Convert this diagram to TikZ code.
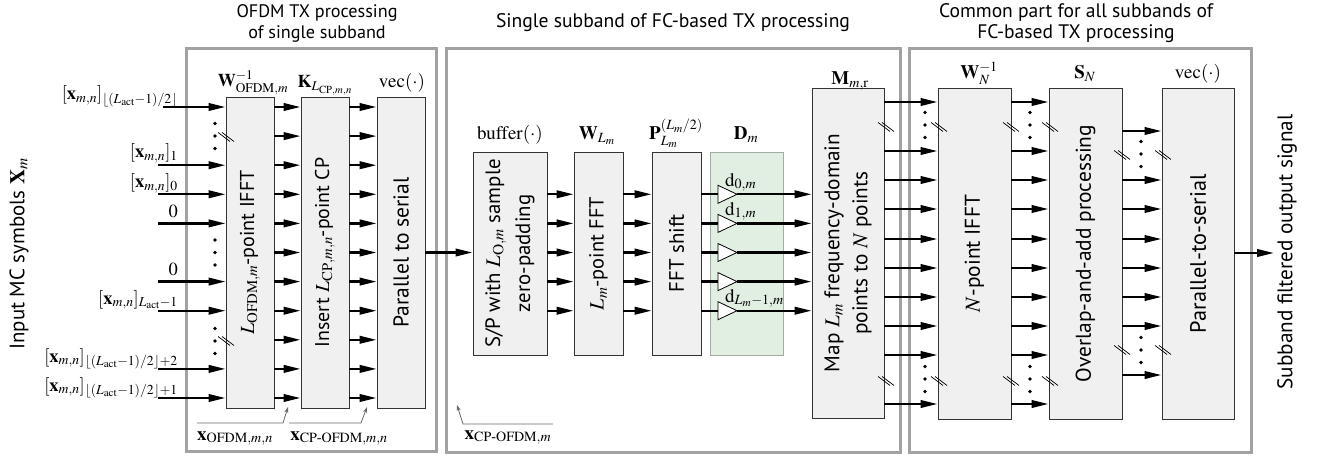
\documentclass[tikz,border=0pt]{standalone}
\usepackage{amsmath}
\usepackage{mathptmx}
\usepackage[no-math]{fontspec}
\setmainfont{Liberation Serif}
\newfontfamily\dinfont{PT Sans}
\usetikzlibrary{arrows.meta}

\definecolor{blockfill}{HTML}{F0F0F0}
\definecolor{secframe}{HTML}{A2A2A2}
\definecolor{dfill}{HTML}{E1EFE3}
\definecolor{dframe}{HTML}{A3ABA4}
\definecolor{notegray}{HTML}{6A6A6A}

% three stacked dots
\tikzset{vdotsthree/.pic={\foreach \dd in {-12.5,0,12.5} \fill (0,\dd) circle[radius=1.8pt];}}
% double slash marking a bundle of lines
\tikzset{dslash/.pic={\draw[line width=0.7pt] (-8,-4.5)--(4,4.5) (-4,-4.5)--(8,4.5);}}

% block given by its corners: name, x0, y0, x1, y1
\newcommand\blockat[6][blk]{%
  \node[#1, minimum width={#5-#3}, minimum height={#6-#4}] (#2) at ({(#3+#5)/2},{(#4+#6)/2}) {};}

% sans font at the size that gives the sample text #3 the length #1 (pt),
% with baselines #2 apart
\newlength\fitwd
\newcommand\fitfont[3]{%
  \settowidth\fitwd{\dinfont\fontsize{10}{12}\selectfont #3}%
  \pgfmathsetmacro\fitpt{10*#1/\fitwd}%
  \dinfont\fontsize{\fitpt}{#2}\selectfont}

\begin{document}
\begin{tikzpicture}[x=1pt,y=-1pt, font=\fontsize{19}{22}\selectfont,
  sect/.style={draw=secframe, line width=3pt, inner sep=0pt},
  blk/.style={draw=black!80, fill=blockfill, line width=0.9pt, inner sep=0pt},
  dblk/.style={draw=dframe, fill=dfill, line width=0.9pt, inner sep=0pt},
  arr/.style={line width=2.3pt, -{Triangle[length=17pt,width=7.5pt]}},
  wire/.style={line width=2.3pt},
  btext/.style={rotate=90, align=center, inner sep=0pt},
  title/.style={align=center, inner sep=0pt},
  fit len/.style n args={3}{font={\fitfont{#1}{#2}{#3}}},
  lab/.style={inner sep=0pt, anchor=base},
  inlab/.style={inner sep=0pt, anchor=base east, font=\fontsize{18.5}{22}\selectfont},
  note/.style={draw=notegray, line width=0.8pt, -{Stealth[length=6pt,width=4pt]}},
]
\fill[white] (0,0) rectangle (1319,457);
\useasboundingbox (0,0) rectangle (1319,457);

% ---------- processing sections ----------
\node[sect, minimum width=250, minimum height=402] (sec1) at (311,250) {};
\node[sect, minimum width=454, minimum height=403] (sec2) at (673,250.5) {};
\node[sect, minimum width=342, minimum height=403] (sec3) at (1080,250.5) {};

\node[title, fit len={161}{21}{OFDM TX processing}] (tit1) at (317,23)
  {OFDM TX processing\\of single subband};
\node[title, fit len={354}{21}{Single subband of FC-based TX processing}] (tit2) at (673,23)
  {Single subband of FC-based TX processing};
\node[title, fit len={274}{21}{Common part for all subbands of}] (tit3) at (1076,23)
  {Common part for all subbands of\\FC-based TX processing};

% ---------- blocks ----------
\blockat{ifft}{226}{97}{274}{408}
\blockat{cp}{301}{97}{349}{408}
\blockat{ps}{377}{97}{425}{408}
\blockat{sp}{473}{152}{547}{355}
\blockat{fft}{574}{152}{623}{355}
\blockat{shift}{652}{152}{701}{355}
\blockat[dblk]{dm}{710}{152}{783}{355}
\blockat{map}{812}{88}{884}{418}
\blockat{ifftN}{938}{88}{1011}{419}
\blockat{ola}{1049}{88}{1122}{419}
\blockat{p2s}{1162}{88}{1234}{419}

\node[btext, fit len={165}{24}{$L_{\mathrm{OFDM},m}$-point IFFT}] (t-ifft) at (ifft)
  {$L_{\mathrm{OFDM},m}$-point IFFT};
\node[btext, fit len={190}{24}{Insert $L_{\mathrm{CP},m,n}$-point CP}] (t-cp) at (cp)
  {Insert $L_{\mathrm{CP},m,n}$-point CP};
\node[btext, fit len={150}{24}{Parallel to serial}] (t-ps) at (ps) {Parallel to serial};
\node[btext, fit len={189}{30}{S/P with $L_{\mathrm{O},m}$ sample}] (t-sp) at (sp)
  {S/P with $L_{\mathrm{O},m}$ sample\\zero-padding};
\node[btext, fit len={114}{24}{$L_m$-point FFT}] (t-fft) at (fft) {$L_m$-point FFT};
\node[btext, fit len={78}{24}{FFT shift}] (t-shift) at (shift) {FFT shift};
\node[btext, fit len={239}{28}{Map $L_m$ frequency-domain}] (t-map) at (map)
  {Map $L_m$ frequency-domain\\points to $N$ points};
\node[btext, fit len={117}{24}{$N$-point IFFT}] (t-ifftN) at (ifftN) {$N$-point IFFT};
\node[btext, fit len={257}{24}{Overlap-and-add processing}] (t-ola) at (ola)
  {Overlap-and-add processing};
\node[btext, fit len={159}{24}{Parallel-to-serial}] (t-p2s) at (p2s) {Parallel-to-serial};

% ---------- operator labels ----------
\node[lab, font=\fontsize{18}{22}\selectfont] (l-ifft) at (253,87) {$\mathbf{W}^{-1}_{\mathrm{OFDM},m}$};
\node[lab, font=\fontsize{18}{22}\selectfont] (l-cp) at (325,88) {$\mathbf{K}_{L_{\mathrm{CP},m,n}}$};
\node[lab] (l-ps) at (402,88) {$\mathrm{vec}(\cdot)$};
\node[lab] (l-sp) at (510,140) {$\mathrm{buffer}(\cdot)$};
\node[lab] (l-fft) at (597,140) {$\mathbf{W}_{L_m}$};
\node[lab] (l-shift) at (676,140) {$\mathbf{P}^{(L_m/2)}_{L_m}$};
\node[lab] (l-dm) at (746,140) {$\mathbf{D}_m$};
\node[lab] (l-map) at (850,85) {$\mathbf{M}_{m,\mathrm{r}}$};
\node[lab] (l-ifftN) at (979,79) {$\mathbf{W}_N^{-1}$};
\node[lab] (l-ola) at (1085,79) {$\mathbf{S}_N$};
\node[lab] (l-p2s) at (1198,79) {$\mathrm{vec}(\cdot)$};

% ---------- rows of the OFDM part ----------
\foreach \i in {1,...,11} \coordinate (r\i) at (0,{107+29.1*(\i-1)});

% inputs
\coordinate (in1) at (163,107);
\foreach \i in {3,4,5,7,8,10,11} \coordinate (in\i) at ([xshift=158pt]r\i);
\foreach \i in {1,3,4,5,7,8,10,11} \draw[arr] (in\i) -- (ifft.west |- in\i);

\node[inlab] (x1) at (178,100) {$[\mathbf{x}_{m,n}]_{\lfloor(L_{\mathrm{act}}-1)/2\rfloor}$};
\node[inlab] (x3) at (178,158) {$[\mathbf{x}_{m,n}]_1$};
\node[inlab] (x4) at (178,187.5) {$[\mathbf{x}_{m,n}]_0$};
\node[inlab] (x5) at (178,217) {$0$};
\node[inlab] (x7) at (178,275) {$0$};
\node[inlab] (x8) at (178,304) {$[\mathbf{x}_{m,n}]_{L_{\mathrm{act}}-1}$};
\node[inlab] (x10) at (178,362) {$[\mathbf{x}_{m,n}]_{\lfloor(L_{\mathrm{act}}-1)/2\rfloor+2}$};
\node[inlab] (x11) at (178,391) {$[\mathbf{x}_{m,n}]_{\lfloor(L_{\mathrm{act}}-1)/2\rfloor+1}$};

\pic at (215,136) {vdotsthree};
\pic at (215,252.5) {vdotsthree};
\pic at (215,341) {vdotsthree};
\pic at (226,137) {dslash};
\pic at (226,341) {dslash};

\foreach \i in {1,...,11} {
  \draw[arr] (ifft.east |- r\i) -- (cp.west |- r\i);
  \draw[arr] (cp.east |- r\i) -- (ps.west |- r\i);
}

% ---------- single subband FC part ----------
\draw[arr] (ps.east |- r6) -- (sp.west |- r6);
\coordinate (ampbx) at (718,0);
\coordinate (amptx) at (737,0);
\foreach \i in {4,...,8} {
  \draw[arr] (sp.east |- r\i) -- (fft.west |- r\i);
  \draw[arr] (fft.east |- r\i) -- (shift.west |- r\i);
  \coordinate (ampb\i) at (ampbx |- r\i);
  \coordinate (ampt\i) at (amptx |- r\i);
  \draw[wire] (shift.east |- r\i) -- (ampb\i);
  \draw[arr] (ampt\i) -- (map.west |- ampt\i);
  \draw[fill=white, line width=0.8pt, line join=miter]
    ([yshift=9pt]ampb\i) -- (ampt\i) -- ([yshift=-9pt]ampb\i) -- cycle;
}
\node[inner sep=0pt, anchor=base west] (d0) at (725,186) {$\mathrm{d}_{0,m}$};
\node[inner sep=0pt, anchor=base west] (d1) at (725,215) {$\mathrm{d}_{1,m}$};
\node[inner sep=0pt, anchor=base west] (dL) at (725,302) {$\mathrm{d}_{L_m-1,m}$};

% ---------- common part ----------
\foreach \y [count=\i] in {102,151,180,209,239,268,297,326,355,404}
  \coordinate (q\i) at (0,\y);
\foreach \i in {1,...,10} {
  \draw[arr] (map.east |- q\i) -- (ifftN.west |- q\i);
  \draw[arr] (ifftN.east |- q\i) -- (ola.west |- q\i);
}
\foreach \y [count=\i] in {131,180,209,239,268,297,326,375}
  \coordinate (s\i) at (0,\y);
\foreach \i in {1,...,8} \draw[arr] (ola.east |- s\i) -- (p2s.west |- s\i);
\coordinate (outend) at (1274,253);
\draw[arr] (p2s.east |- outend) -- (outend);

\foreach \x in {925,1030} {\pic at (\x,125) {vdotsthree}; \pic at (\x,379) {vdotsthree};}
\pic at (1141,154) {vdotsthree};
\pic at (1141,350) {vdotsthree};
\foreach \x in {886,939,1011,1050} {\pic at (\x,127) {dslash}; \pic at (\x,381) {dslash};}
\foreach \x in {1122,1163} {\pic at (\x,155) {dslash}; \pic at (\x,350) {dslash};}

% ---------- side labels ----------
\node[btext, fit len={192}{24}{Input MC symbols $\mathbf{X}_m$}] (inlabel) at (19,254)
  {Input MC symbols $\mathbf{X}_m$};
\node[btext, fit len={275}{24}{Subband filtered output signal}] (outlabel) at (1287,252)
  {Subband filtered output signal};

% ---------- signal annotations ----------
\node[lab] (n1) at (235,440) {$\mathbf{x}_{\mathrm{OFDM},m,n}$};
\node[lab] (n2) at (339,440) {$\mathbf{x}_{\mathrm{CP\text{-}OFDM},m,n}$};
\node[lab] (n3) at (508,439) {$\mathbf{x}_{\mathrm{CP\text{-}OFDM},m}$};
\coordinate (n1a) at (197,423); \coordinate (n1b) at (283,423); \coordinate (n1t) at (288,407);
\coordinate (n2a) at (289,423); \coordinate (n2b) at (361,423); \coordinate (n2t) at (367,407);
\coordinate (n3a) at (553,424); \coordinate (n3b) at (463,424); \coordinate (n3t) at (457,405);
\draw[note] (n1a) -- (n1b) -- (n1t);
\draw[note] (n2a) -- (n2b) -- (n2t);
\draw[note] (n3a) -- (n3b) -- (n3t);
\end{tikzpicture}
\end{document}
